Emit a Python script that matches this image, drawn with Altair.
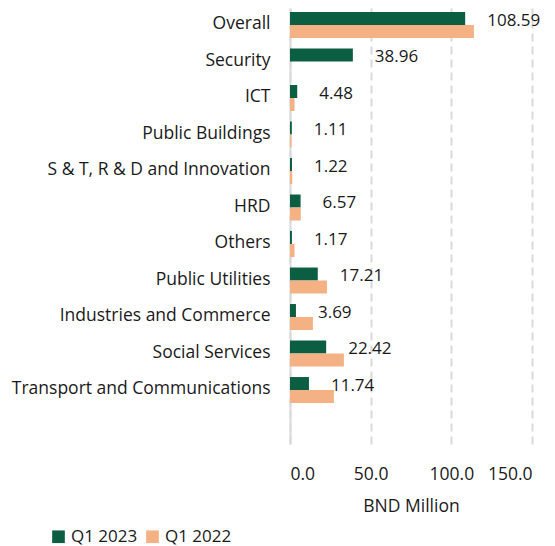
import altair as alt
import pandas as pd

categories = ["Overall", "Security", "ICT", "Public Buildings",
              "S & T, R & D and Innovation", "HRD", "Others",
              "Public Utilities", "Industries and Commerce",
              "Social Services", "Transport and Communications"]
q1_2023 = [108.59, 38.96, 4.48, 1.11, 1.22, 6.57, 1.17, 17.21, 3.69, 22.42, 11.74]
q1_2022 = [114.0, 0.0, 2.8, 0.9, 1.4, 6.7, 2.8, 22.9, 14.2, 33.4, 27.2]
series = ["Q1 2023", "Q1 2022"]
colors = ["#0B5E41", "#F4B183"]
x_ticks = [0, 50, 100, 150]

rows = []
for c, a, b in zip(categories, q1_2023, q1_2022):
    rows.append({"category": c, "series": series[0], "value": a})
    rows.append({"category": c, "series": series[1], "value": b})
df = pd.DataFrame(rows)

FONT = "Open Sans"
FS = 17.5

y_enc = alt.Y("category:N", sort=categories,
              scale=alt.Scale(paddingInner=0.288, paddingOuter=0.616, align=0.089),
              axis=alt.Axis(title=None, labelFontSize=FS, labelPadding=20, labelFont=FONT,
                            labelColor="#1a1a1a", domainColor="#d9d9d9", domainWidth=2,
                            ticks=False, grid=False, minExtent=282, maxExtent=282,
                            labelLimit=400, labelOffset=-1))
yoff_enc = alt.YOffset("series:N", sort=series, scale=alt.Scale(domain=series))
x_enc = alt.X("value:Q", scale=alt.Scale(domain=[0, 150], nice=False),
              axis=alt.Axis(values=x_ticks, format=".1f", title="BND Million",
                            grid=True, gridDash=[8, 5], gridColor="#d9d9d9", gridWidth=2,
                            domain=False, ticks=False, labelPadding=21, labelFontSize=FS,
                            labelFont=FONT, labelColor="#1a1a1a", titleFont=FONT,
                            titleFontSize=FS, titleFontWeight="normal", titleColor="#1a1a1a",
                            titlePadding=15))

bars = alt.Chart(df).mark_bar().encode(
    x=x_enc,
    y=y_enc,
    yOffset=yoff_enc,
    color=alt.Color("series:N", sort=series,
                    scale=alt.Scale(domain=series, range=colors),
                    legend=alt.Legend(title=None, orient="none", direction="horizontal",
                                      legendX=-240, legendY=520, symbolType="square",
                                      symbolSize=160, labelFontSize=17, labelFont=FONT,
                                      labelColor="#1a1a1a", columnPadding=6,
                                      labelOffset=4, symbolStrokeWidth=0)),
)

text = alt.Chart(df).transform_filter(alt.datum.series == "Q1 2023").mark_text(
    align="left", baseline="middle", dx=22, dy=2, fontSize=17, font=FONT, color="#1a1a1a"
).encode(
    x=alt.X("value:Q"),
    y=alt.Y("category:N", sort=categories),
    yOffset=yoff_enc,
    text=alt.Text("value:Q", format=".2f"),
)

chart = (bars + text).properties(
    width=242, height=436,
    padding={"left": 0, "top": 0, "right": 5, "bottom": 5},
).configure_view(stroke=None)

chart.save("out.html", embed_options={"renderer": "svg", "actions": False})
